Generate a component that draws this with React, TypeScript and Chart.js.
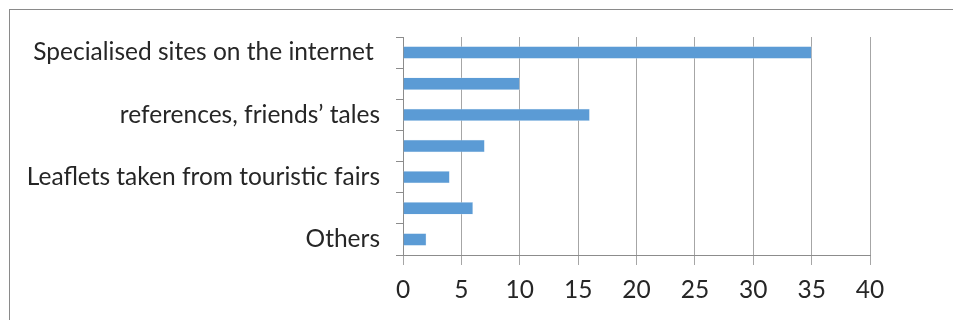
import React, { useEffect, useRef } from "react";
import { Chart, registerables } from "chart.js";

Chart.register(...registerables);

const categories: string[] = [
  "Specialised sites on the internet ",
  "",
  "references, friends\u2019 tales",
  "",
  "Leaflets taken from touristic fairs",
  "",
  "Others",
];
const values: number[] = [35, 10, 16, 7, 4, 6, 2];
const xMin = 0;
const xMax = 40;
const xStep = 5;

export default function App() {
  const ref = useRef<HTMLCanvasElement | null>(null);

  useEffect(() => {
    if (!ref.current) return;
    const font = { family: "Lato", size: 24.5 };
    const chart = new Chart(ref.current, {
      type: "bar",
      data: {
        labels: categories,
        datasets: [
          {
            data: values,
            backgroundColor: "#5B9BD5",
            borderColor: "#d6e6f5",
            borderWidth: 0.5,
            categoryPercentage: 1,
            barPercentage: 0.4,
          },
        ],
      },
      options: {
        indexAxis: "y",
        animation: false,
        responsive: false,
        layout: { padding: { left: 0, right: 83, top: 37, bottom: 0 } },
        plugins: { legend: { display: false }, tooltip: { enabled: false } },
        scales: {
          x: {
            min: xMin,
            max: xMax,
            ticks: { stepSize: xStep, color: "#262626", font, padding: 10 },
            grid: { color: "#a6a6a6", lineWidth: 1, tickLength: 10 },
            border: { color: "#8c8c8c" },
            afterFit: (s: any) => {
              s.height = 65;
            },
          },
          y: {
            ticks: { color: "#262626", font, padding: 16, autoSkip: false },
            grid: {
              offset: true,
              drawOnChartArea: false,
              color: "#8c8c8c",
              tickLength: 7,
            },
            border: { color: "#8c8c8c" },
            afterFit: (s: any) => {
              s.width = 403;
            },
          },
        },
      },
    });
    return () => chart.destroy();
  }, []);

  return (
    <div>
      <div
        style={{
          position: "fixed",
          left: 9,
          top: 9,
          right: 0,
          bottom: 0,
          borderTop: "1px solid #8a8a8a",
          borderLeft: "1px solid #8a8a8a",
        }}
      />
      <canvas
        ref={ref}
        width={953}
        height={320}
        style={{ position: "fixed", left: 0, top: 0, width: 953, height: 320 }}
      />
    </div>
  );
}
